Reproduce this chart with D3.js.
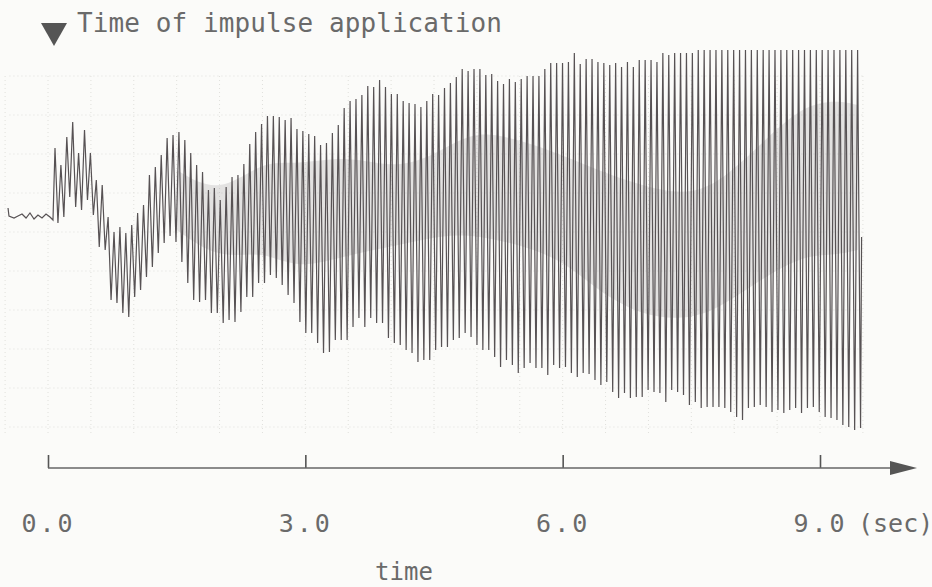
<!DOCTYPE html>
<html>
<head>
<meta charset="utf-8">
<script src="https://cdn.jsdelivr.net/npm/d3@7/dist/d3.min.js"></script>
<style>
  html, body { margin: 0; padding: 0; background: #fbfbf9; }
  svg { display: block; }
  .lbl { font-family: "DejaVu Sans Mono", "Liberation Mono", monospace; fill: #666; }
</style>
</head>
<body>
<svg id="chart" width="932" height="587"></svg>
<script>
// ---- response record (arbitrary units, 0 = rest level) ----
// quiet trace before the impulse
const preTime  = [-0.466, -0.455, -0.396, -0.35, -0.303, -0.256, -0.21, -0.163, -0.117, -0.07, -0.023, 0.023, 0.058];
const preValue = [0.8, 0.0, -0.2, 0.0, 0.2, -0.2, 0.3, -0.3, 0.1, -0.2, 0.2, -0.1, -0.4];

// oscillation after the impulse: one crest and one trough per cycle
const cycleStart  = 0.0816;   // s, first crest
const cyclePeriod = 0.0688;   // s
const crest = [
  6.8, 5.1, 7.9, 9.4, 6.3, 8.6, 6.3, 3.6, 3.1, -0.1,
  -1.6, -1.1, -1.7, -0.9, 0.3, 1.1, 4.1, 4.9, 6.1, 7.8,
  8.1, 8.4, 7.6, 6.3, 5.1, 4.4, 2.6, 2.8, 1.6, 2.9,
  3.9, 4.1, 5.2, 7.2, 8.4, 9.2, 10.0, 10.0, 9.9, 9.6,
  9.8, 8.7, 8.5, 8.2, 8.0, 7.1, 7.3, 8.3, 9.1, 10.8,
  11.5, 11.7, 12.1, 13.0, 12.9, 13.6, 12.9, 12.2, 12.2, 11.5,
  11.3, 11.2, 10.9, 11.5, 12.2, 12.1, 12.8, 13.3, 13.9, 14.7,
  14.5, 14.7, 14.7, 14.1, 14.2, 13.5, 13.2, 13.7, 13.4, 13.7,
  14.0, 14.0, 14.0, 14.7, 15.3, 15.3, 15.3, 15.4, 16.3, 15.2,
  15.7, 15.7, 15.4, 15.3, 15.1, 15.3, 14.9, 15.4, 14.9, 15.6,
  15.6, 15.6, 15.4, 16.3, 16.1, 16.3, 16.3, 16.3, 16.3, 16.6,
  16.6, 16.6, 16.6, 16.6, 16.6, 16.6, 16.6, 16.6, 16.6, 16.6,
  16.6, 16.6, 16.6, 16.6, 16.6, 16.6, 16.6, 16.6, 16.6, 16.6,
  16.6, 16.6, 16.6, 16.6, 16.6, 16.6, 16.6
];
const trough = [
  -0.7, -0.1, 1.9, 0.9, 0.6, 1.6, 0.1, -3.1, -3.4, -8.4,
  -8.7, -9.7, -10.1, -8.1, -7.4, -6.1, -5.1, -3.7, -2.7, -2.0,
  -2.6, -4.6, -6.7, -8.4, -8.6, -8.4, -9.7, -9.7, -10.7, -10.4,
  -10.6, -9.6, -8.1, -8.1, -6.7, -6.7, -5.9, -6.2, -6.9, -7.9,
  -8.7, -10.6, -11.7, -11.7, -12.7, -13.7, -13.6, -12.4, -12.4, -12.4,
  -11.1, -10.2, -11.1, -10.2, -10.7, -10.7, -12.2, -12.7, -12.9, -13.4,
  -13.7, -14.6, -14.4, -14.4, -13.4, -13.1, -13.1, -12.4, -12.2, -11.7,
  -12.1, -12.9, -13.4, -13.4, -14.1, -15.1, -14.4, -14.9, -15.7, -15.2,
  -14.7, -15.2, -15.2, -15.9, -14.9, -15.2, -15.1, -15.7, -16.1, -15.7,
  -15.8, -16.4, -16.9, -16.6, -17.6, -18.2, -17.7, -18.2, -18.1, -18.1,
  -17.4, -17.6, -17.7, -18.6, -17.4, -17.6, -17.9, -18.9, -18.6, -19.2,
  -19.1, -19.1, -19.1, -19.2, -19.6, -20.1, -20.4, -19.2, -19.1, -18.9,
  -19.1, -19.6, -19.4, -19.7, -19.4, -19.2, -19.7, -19.2, -19.1, -19.6,
  -20.1, -20.2, -20.4, -20.9, -21.1, -21.4, -21.2
];
const endValue = -2.1;

// dense mid band where the trace overlaps most
const bandTime = [1.5, 2.0, 2.5, 2.9, 3.5, 4.1, 4.6, 5.0, 5.5, 6.0, 6.4, 6.9, 7.4, 7.8, 8.3, 8.8, 9.2, 9.44];
const bandHi   = [4.6, 2.1, 5.6, 5.1, 6.1, 4.6, 6.6, 8.6, 7.6, 6.1, 4.6, 3.1, 2.1, 3.1, 7.1, 11.1, 11.6, 11.1];
const bandLo   = [-1.4, -4.4, -3.4, -5.4, -3.9, -2.9, -1.9, -1.9, -2.9, -4.4, -7.4, -9.9, -10.4, -9.4, -6.4, -3.9, -3.9, -3.4];

// axis
const tickValues  = [0, 3, 6, 9];
const impulseTime = 0.07;
const gridTimes   = [-0.5, 0, 0.5, 1, 1.5, 2, 2.5, 3, 3.5, 4, 4.5, 5, 5.5, 6, 6.5, 7, 7.5, 8, 8.5, 9, 9.5];
const gridValues  = [-21.1, -17.2, -13.3, -9.4, -5.5, -1.6, 2.3, 6.2, 10.1, 14.0];

// ---- drawing ----
const svg = d3.select("#chart");
const x = d3.scaleLinear().domain([0, 9]).range([48, 820]);
const y = d3.scaleLinear().domain([-25, 20]).range([466, 16]);

// faint dotted grid of the recording paper
const grid = svg.append("g").attr("stroke", "#e0e0dc").attr("stroke-width", 1).attr("stroke-dasharray", "1,3");
grid.selectAll("line.v").data(gridTimes).join("line").attr("class", "v")
  .attr("x1", d => x(d)).attr("x2", d => x(d)).attr("y1", y(14)).attr("y2", y(-22));
grid.selectAll("line.h").data(gridValues).join("line").attr("class", "h")
  .attr("x1", x(-0.45)).attr("x2", x(9.5)).attr("y1", d => y(d)).attr("y2", d => y(d));

// mid band haze
const band = bandTime.map((t, i) => ({ t, hi: bandHi[i], lo: bandLo[i] }));
svg.append("path").datum(band)
  .attr("d", d3.area().x(d => x(d.t)).y0(d => y(d.lo)).y1(d => y(d.hi)).curve(d3.curveBasis))
  .attr("fill", "#8c8a8c").attr("opacity", 0.22);

// trace
const pts = preTime.map((t, i) => ({ t, v: preValue[i] }));
crest.forEach((c, i) => {
  const t = cycleStart + i * cyclePeriod;
  pts.push({ t, v: c });
  pts.push({ t: t + cyclePeriod / 2, v: trough[i] });
});
pts.push({ t: cycleStart + crest.length * cyclePeriod - cyclePeriod / 2 + 0.012, v: endValue });

svg.append("path").datum(pts)
  .attr("d", d3.line().x(d => x(d.t)).y(d => y(d.v)))
  .attr("fill", "none").attr("stroke", "#575254").attr("stroke-width", 1.2)
  .attr("stroke-linejoin", "miter");

// impulse marker and title
const mx = x(impulseTime);
svg.append("path")
  .attr("d", `M${mx - 13},23 L${mx + 13},23 L${mx},46 Z`)
  .attr("fill", "#555");
svg.append("text").attr("class", "lbl")
  .attr("x", 77).attr("y", 32)
  .attr("font-size", 26).attr("textLength", 425).attr("lengthAdjust", "spacing")
  .style("fill", "#6a6a6a")
  .text("Time of impulse application");

// time axis with upward ticks and an arrow head
const axisY = 468;
const axis = d3.axisBottom(x).tickValues(tickValues).tickSize(-13).tickPadding(64)
  .tickFormat(d3.format(".1f"));
const gAxis = svg.append("g").attr("transform", `translate(0,${axisY})`).call(axis);
gAxis.select(".domain").remove();
gAxis.selectAll(".tick line").attr("stroke", "#555").attr("stroke-width", 1.6);
gAxis.selectAll(".tick text").attr("class", "lbl").attr("font-size", 25)
  .attr("dy", "0").attr("letter-spacing", 3).style("fill", "#6a6a6a");
gAxis.append("line").attr("x1", x(0)).attr("x2", 895).attr("y1", 0).attr("y2", 0)
  .attr("stroke", "#666").attr("stroke-width", 1.6);
gAxis.append("path").attr("d", "M890,-7 L917,0 L890,7 Z").attr("fill", "#555");

svg.append("text").attr("class", "lbl")
  .attr("x", 858).attr("y", 532).attr("font-size", 25)
  .style("fill", "#6a6a6a")
  .text("(sec)");
svg.append("text").attr("class", "lbl")
  .attr("x", 404).attr("y", 580).attr("font-size", 24).attr("text-anchor", "middle")
  .style("fill", "#6a6a6a")
  .text("time");
</script>
</body>
</html>
